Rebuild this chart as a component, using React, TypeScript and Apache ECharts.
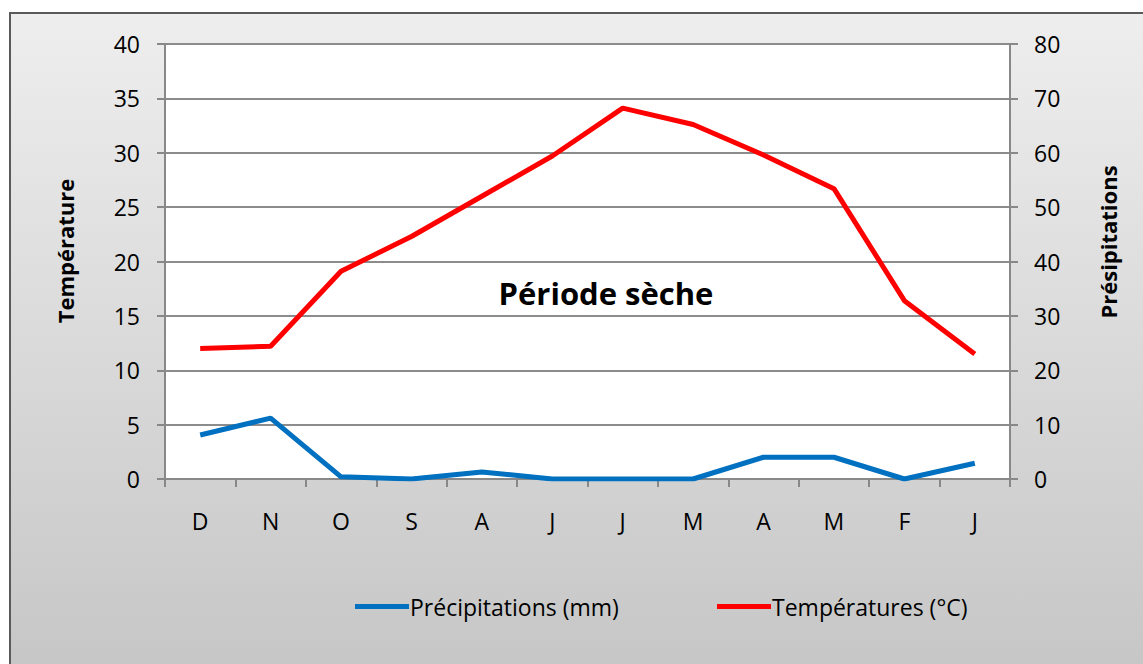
import React, { useEffect, useRef } from "react";
import * as echarts from "echarts";

const categories = ["D", "N", "O", "S", "A", "J", "J", "M", "A", "M", "F", "J"];
const precipitations = [8.1, 11.2, 0.4, 0, 1.3, 0, 0, 0, 4.0, 4.0, 0, 2.9];
const temperatures = [12.0, 12.2, 19.1, 22.3, 26.0, 29.7, 34.1, 32.6, 29.8, 26.7, 16.4, 11.5];
const leftTicks = { min: 0, max: 40, interval: 5 };
const rightTicks = { min: 0, max: 80, interval: 10 };

const FONT = "'Open Sans', 'Noto Sans', sans-serif";

export default function App() {
  const ref = useRef<HTMLDivElement>(null);
  useEffect(() => {
    document.body.style.margin = "0";
    const chart = echarts.init(ref.current!, undefined, { renderer: "svg" });
    const legendText = { fontSize: 23, color: "#000", fontFamily: FONT, padding: [0, 0, 0, -4] };
    chart.setOption({
      animation: false,
      backgroundColor: "#ffffff",
      textStyle: { fontFamily: FONT },
      graphic: [
        {
          type: "rect",
          z: -10,
          silent: true,
          shape: { x: 10, y: 13, width: 1140, height: 660 },
          style: {
            fill: new echarts.graphic.LinearGradient(0, 0, 0, 1, [
              { offset: 0, color: "#eeeeee" },
              { offset: 1, color: "#c6c6c6" },
            ]),
            stroke: "#5a5a5a",
            lineWidth: 2,
          },
        },
        {
          type: "text",
          x: 65,
          y: 251,
          rotation: Math.PI / 2,
          style: {
            text: "Température",
            font: `bold 22px ${FONT}`,
            fill: "#000",
            align: "center",
            verticalAlign: "middle",
          },
        },
        {
          type: "text",
          x: 1108,
          y: 242,
          rotation: Math.PI / 2,
          style: {
            text: "Présipitations",
            font: `bold 22px ${FONT}`,
            fill: "#000",
            align: "center",
            verticalAlign: "middle",
          },
        },
        {
          type: "text",
          x: 606,
          y: 293,
          z: 10,
          style: {
            text: "Période sèche",
            font: `bold 31px ${FONT}`,
            fill: "#000",
            align: "center",
            verticalAlign: "middle",
          },
        },
      ],
      grid: {
        left: 165,
        right: 133,
        top: 44,
        bottom: 185,
        show: true,
        backgroundColor: "#ffffff",
        borderWidth: 0,
      },
      legend: [
        {
          left: 350,
          top: 590,
          icon: "rect",
          itemWidth: 54,
          itemHeight: 5,
          textStyle: legendText,
          data: ["Précipitations (mm)"],
        },
        {
          left: 712,
          top: 590,
          icon: "rect",
          itemWidth: 54,
          itemHeight: 5,
          textStyle: legendText,
          data: ["Températures (°C)"],
        },
      ],
      xAxis: {
        type: "category",
        data: categories,
        boundaryGap: true,
        axisLine: { lineStyle: { color: "#888888", width: 2 } },
        axisTick: { show: true, length: 8, lineStyle: { color: "#888888", width: 2 } },
        axisLabel: { fontSize: 23, color: "#000", margin: 30, fontFamily: FONT },
      },
      yAxis: [
        {
          type: "value",
          min: leftTicks.min,
          max: leftTicks.max,
          interval: leftTicks.interval,
          axisLine: { show: true, lineStyle: { color: "#888888", width: 2 } },
          axisTick: { show: true, length: 8, lineStyle: { color: "#888888", width: 2 } },
          axisLabel: { fontSize: 23, color: "#000", margin: 25, fontFamily: FONT },
          splitLine: { show: true, lineStyle: { color: "#8c8c8c", width: 2 } },
        },
        {
          type: "value",
          min: rightTicks.min,
          max: rightTicks.max,
          interval: rightTicks.interval,
          position: "right",
          axisLine: { show: true, lineStyle: { color: "#888888", width: 2 } },
          axisTick: { show: true, length: 8, lineStyle: { color: "#888888", width: 2 } },
          axisLabel: { fontSize: 23, color: "#000", margin: 24, fontFamily: FONT },
          splitLine: { show: false },
        },
      ],
      series: [
        {
          name: "Précipitations (mm)",
          type: "line",
          yAxisIndex: 1,
          data: precipitations,
          symbol: "none",
          lineStyle: { color: "#0070C0", width: 5 },
          itemStyle: { color: "#0070C0" },
        },
        {
          name: "Températures (°C)",
          type: "line",
          yAxisIndex: 0,
          data: temperatures,
          symbol: "none",
          lineStyle: { color: "#FF0000", width: 5 },
          itemStyle: { color: "#FF0000" },
        },
      ],
    });
    return () => chart.dispose();
  }, []);
  return <div ref={ref} style={{ width: 1143, height: 664 }} />;
}
